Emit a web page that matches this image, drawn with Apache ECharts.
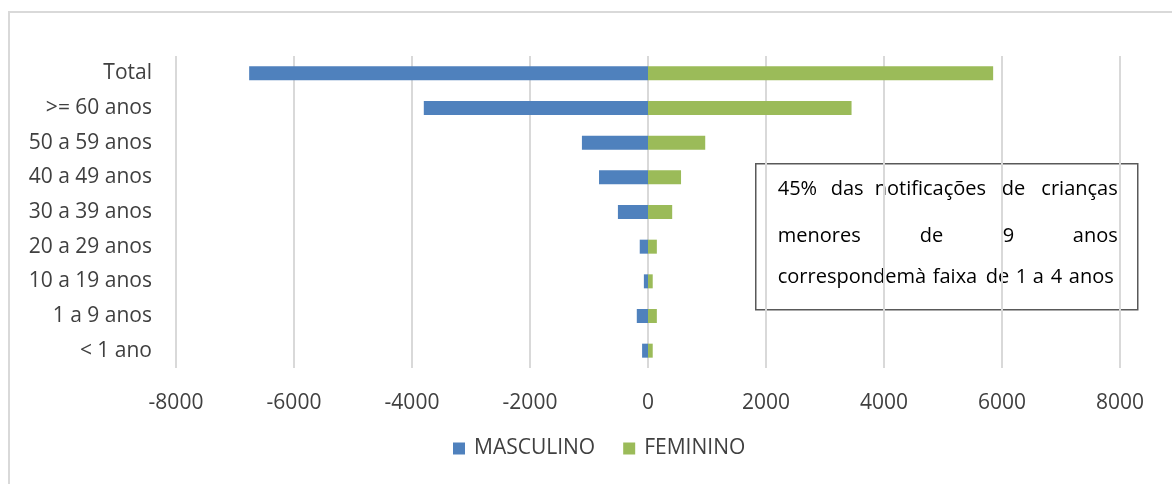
<!DOCTYPE html>
<html>
<head>
<meta charset="utf-8">
<script src="https://cdn.jsdelivr.net/npm/echarts@6/dist/echarts.min.js"></script>
<style>
  html, body { margin: 0; padding: 0; background: #fff; }
  #chart { width: 1172px; height: 484px; }
</style>
</head>
<body>
<div id="chart"></div>
<script>
// faixas etárias (de baixo para cima no gráfico)
const faixas = ['< 1 ano', '1 a 9 anos', '10 a 19 anos', '20 a 29 anos', '30 a 39 anos',
  '40 a 49 anos', '50 a 59 anos', '>= 60 anos', 'Total']
// masculino fica do lado negativo
const masculino = [-100, -190, -70, -140, -510, -830, -1120, -3800, -6760]
const feminino = [80, 150, 80, 150, 410, 560, 970, 3450, 5850]

const font = '"Open Sans", sans-serif'
const chart = echarts.init(document.getElementById('chart'))

// caixa de texto: uma palavra por elemento, para imitar o texto justificado
function palavra(text, x, y, align) {
  return {
    type: 'text', x: x, y: y,
    style: { text: text, fontSize: 20, fill: '#000', fontFamily: font, verticalAlign: 'middle', align: align || 'left' }
  }
}

const option = {
  animation: false,
  textStyle: { fontFamily: font },
  grid: { left: 176, right: 52, top: 56, bottom: 116 },
  legend: {
    top: 438,
    left: 453,
    padding: 0,
    itemWidth: 12,
    itemHeight: 12,
    itemGap: 28,
    icon: 'rect',
    textStyle: { fontSize: 21, color: '#404040', fontFamily: font, padding: [0, 0, 0, 4] },
    data: ['MASCULINO', 'FEMININO']
  },
  xAxis: {
    type: 'value',
    min: -8000,
    max: 8000,
    interval: 2000,
    axisLine: { show: false },
    axisTick: { show: false },
    axisLabel: { fontSize: 21, color: '#404040', margin: 25, formatter: v => String(v) },
    splitLine: { lineStyle: { color: '#d9d9d9', width: 2 } }
  },
  yAxis: {
    type: 'category',
    data: faixas,
    axisLine: { show: false },
    axisTick: { show: false },
    axisLabel: { fontSize: 21, color: '#404040', margin: 24 }
  },
  series: [
    {
      name: 'MASCULINO',
      type: 'bar',
      stack: 'piramide',
      barWidth: 14,
      itemStyle: { color: '#4f81bd' },
      data: masculino
    },
    {
      name: 'FEMININO',
      type: 'bar',
      stack: 'piramide',
      barWidth: 14,
      itemStyle: { color: '#9bbb59' },
      data: feminino
    }
  ],
  graphic: [
    {
      type: 'rect',
      silent: true,
      shape: { x: 9, y: 12, width: 1200, height: 520 },
      style: { fill: 'none', stroke: '#d9d9d9', lineWidth: 2 }
    },
    {
      type: 'group',
      left: 755,
      top: 163,
      children: [
        {
          type: 'rect',
          shape: { x: 0, y: 0, width: 382, height: 146 },
          style: { fill: '#fff', stroke: '#595959', lineWidth: 1.5 }
        },
        palavra('45%', 22, 26),
        palavra('das', 75, 26),
        palavra('notificações', 119, 26),
        palavra('de', 246, 26),
        palavra('crianças', 362, 26, 'right'),
        palavra('menores', 22, 73),
        palavra('de', 164, 73),
        palavra('9', 247, 73),
        palavra('anos', 362, 73, 'right'),
        palavra('correspondemà', 22, 114),
        palavra('faixa', 177, 114),
        palavra('de', 230, 114),
        palavra('1', 260, 114),
        palavra('a', 277, 114),
        palavra('4', 295, 114),
        palavra('anos', 358, 114, 'right')
      ]
    }
  ]
}

chart.setOption(option)
</script>
</body>
</html>
